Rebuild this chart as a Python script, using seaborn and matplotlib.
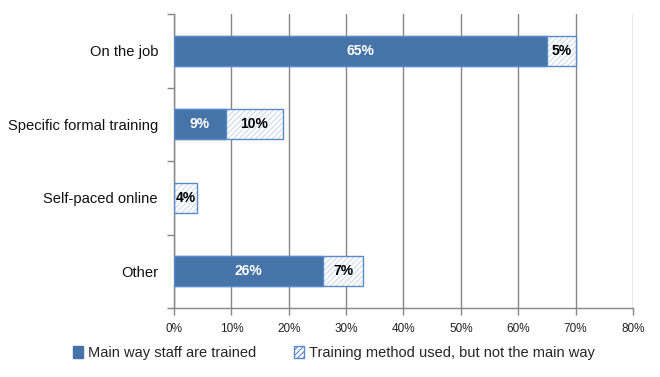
import matplotlib
matplotlib.use("Agg")
import matplotlib.pyplot as plt
import seaborn as sns
import pandas as pd
import numpy as np
from matplotlib.patches import Patch
from matplotlib.ticker import FixedLocator

categories = ["On the job", "Specific formal training", "Self-paced online", "Other"]
main_way = [65, 9, 0, 26]
used_not_main = [5, 10, 4, 7]
series_names = ["Main way staff are trained", "Training method used, but not the main way"]
x_ticks = [0, 10, 20, 30, 40, 50, 60, 70, 80]

sns.set_theme(style="white")
plt.rcParams["font.family"] = ["Liberation Sans", "DejaVu Sans"]
plt.rcParams["hatch.linewidth"] = 0.8

main_col = "#4674A8"
edge_col = "#5A8ACB"
hatch_col = "#CDDAEB"

df = pd.DataFrame({"category": categories,
                   "main": main_way,
                   "other": used_not_main})
df["total"] = df["main"] + df["other"]

fig = plt.figure(figsize=(6.6, 3.77), dpi=100)
ax = fig.add_axes([174/660, 1 - 308/377, (633-174)/660, (308-14)/377])

# hatched fill of total bars (light hatch)
sns.barplot(data=df, y="category", x="total", orient="h", ax=ax, width=0.41,
            color="white", edgecolor=hatch_col, linewidth=0, hatch="//////",
            saturation=1, zorder=3)
# outline of total bars
sns.barplot(data=df, y="category", x="total", orient="h", ax=ax, width=0.41,
            fill=False, edgecolor=edge_col, linewidth=1.0, color=edge_col,
            saturation=1, zorder=4)
# main series
sns.barplot(data=df, y="category", x="main", orient="h", ax=ax, width=0.41,
            color=main_col, edgecolor=edge_col, linewidth=1.0,
            saturation=1, zorder=5)

ax.set_xlim(0, 80)
ax.set_ylim(3.5, -0.5)
ax.set_xticks(x_ticks)
ax.set_xticklabels([f"{t}%" for t in x_ticks], fontsize=8.5, color="#222222")
ax.set_xlabel("")
ax.set_ylabel("")
ax.tick_params(axis="y", which="major", length=0, pad=11.5, labelsize=10.6, labelcolor="#111111")
ax.yaxis.set_minor_locator(FixedLocator([-0.5, 0.5, 1.5, 2.5, 3.5]))
ax.tick_params(axis="y", which="minor", left=True, length=5, color="#868686", width=1)
ax.tick_params(axis="x", which="major", bottom=True, length=5, color="#868686", width=1, pad=6)

ax.grid(axis="x", color="#868686", linewidth=1, zorder=0)
ax.set_axisbelow(True)
for s in ["top", "right"]:
    ax.spines[s].set_visible(False)
for s in ["left", "bottom"]:
    ax.spines[s].set_color("#868686")
    ax.spines[s].set_linewidth(1)

for i, (m, o) in enumerate(zip(main_way, used_not_main)):
    if m > 0:
        ax.text(m / 2, i, f"{m}%", ha="center", va="center", color="white",
                fontsize=10, fontweight="bold", zorder=7)
    if o > 0:
        ax.text(m + o / 2, i, f"{o}%", ha="center", va="center", color="black",
                fontsize=10, fontweight="bold", zorder=7)

handles = [Patch(facecolor=main_col, edgecolor=main_col),
           Patch(facecolor="white", edgecolor=edge_col, hatch="//////")]
fig.legend(handles, series_names, loc="center", bbox_to_anchor=(0.506, 1 - 353/377),
           ncol=2, frameon=False, fontsize=10.5, handlelength=0.65, handleheight=0.85,
           handletextpad=0.35, columnspacing=2.6)

fig.savefig("out.png", dpi=100)
